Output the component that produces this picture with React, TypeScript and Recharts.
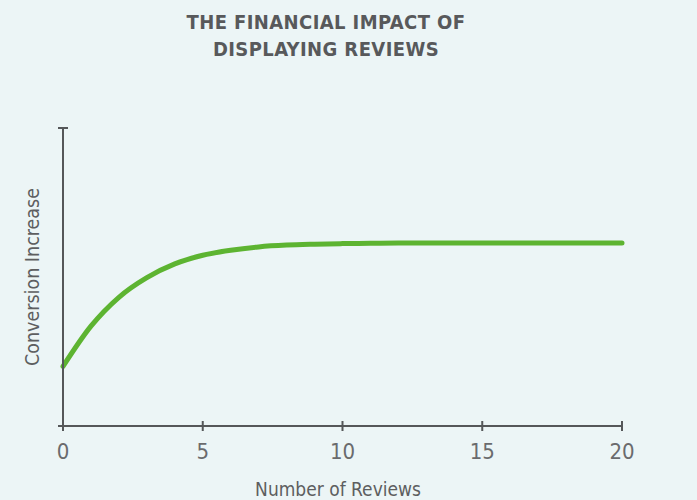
import React from 'react';
import { LineChart, Line, XAxis, YAxis } from 'recharts';

// values (y on a 0–100 scale)
const reviews = [0, 1, 2, 3, 4, 5, 6, 7, 8, 9, 10, 11, 12, 13, 14, 15, 16, 17, 18, 19, 20];
const conversion = [20, 33.5, 43.2, 49.8, 54.4, 57.3, 59, 60.1, 60.7, 61, 61.2, 61.3, 61.4, 61.4, 61.4, 61.4, 61.4, 61.4, 61.4, 61.4, 61.4];
const xTicks = [0, 5, 10, 15, 20];
const yTicks = [0, 100];

const data = reviews.map((r, i) => ({ reviews: r, conversion: conversion[i] }));

const AXIS = '#555759';
const NARROW = '"Liberation Sans Narrow", "DejaVu Sans Condensed", sans-serif';

function XTick(props: any) {
  const { x, y, payload } = props;
  return (
    <g>
      <line x1={x} x2={x} y1={y - 5} y2={y + 5} stroke={AXIS} strokeWidth={2} />
      <text x={x} y={y + 33} textAnchor="middle" fill="#6a6b6d" fontSize={22} fontFamily={NARROW}>
        {payload.value}
      </text>
    </g>
  );
}

function YTick(props: any) {
  const { x, y } = props;
  return <line x1={x - 5} x2={x + 5} y1={y} y2={y} stroke={AXIS} strokeWidth={2} />;
}

export default function App() {
  return (
    <div style={{ position: 'absolute', left: 0, top: 0, width: 697, height: 500, background: '#ecf5f6', overflow: 'hidden' }}>
      <div
        style={{
          position: 'absolute', left: 0, top: 9, width: 652, textAlign: 'center',
          fontFamily: NARROW, fontWeight: 700, fontSize: 20, lineHeight: '27px',
          letterSpacing: 0.4, color: '#58595b',
        }}
      >
        THE FINANCIAL IMPACT OF<br />DISPLAYING REVIEWS
      </div>
      <LineChart width={697} height={500} data={data} margin={{ top: 128, right: 75, bottom: 44, left: 53 }}>
        <XAxis
          dataKey="reviews"
          type="number"
          domain={[0, 20]}
          ticks={xTicks}
          height={30}
          axisLine={{ stroke: AXIS, strokeWidth: 2 }}
          tickLine={false}
          tickSize={0}
          tickMargin={0}
          tick={<XTick />}
        />
        <YAxis
          type="number"
          domain={[0, 100]}
          ticks={yTicks}
          width={10}
          axisLine={{ stroke: AXIS, strokeWidth: 2 }}
          tickLine={false}
          tickSize={0}
          tickMargin={0}
          tick={<YTick />}
        />
        <Line
          dataKey="conversion"
          type="monotone"
          stroke="#5db431"
          strokeWidth={5}
          strokeLinecap="round"
          dot={false}
          isAnimationActive={false}
        />
      </LineChart>
      <div
        style={{
          position: 'absolute', left: 238, top: 477, width: 200, textAlign: 'center',
          fontFamily: NARROW, fontSize: 19, color: '#5d5e60', lineHeight: '24px',
        }}
      >
        Number of Reviews
      </div>
      <div
        style={{
          position: 'absolute', left: 33 - 100, top: 277 - 12, width: 200, textAlign: 'center',
          fontFamily: NARROW, fontSize: 19.5, color: '#5d5e60', lineHeight: '24px',
          transform: 'rotate(-90deg)',
        }}
      >
        Conversion Increase
      </div>
    </div>
  );
}
